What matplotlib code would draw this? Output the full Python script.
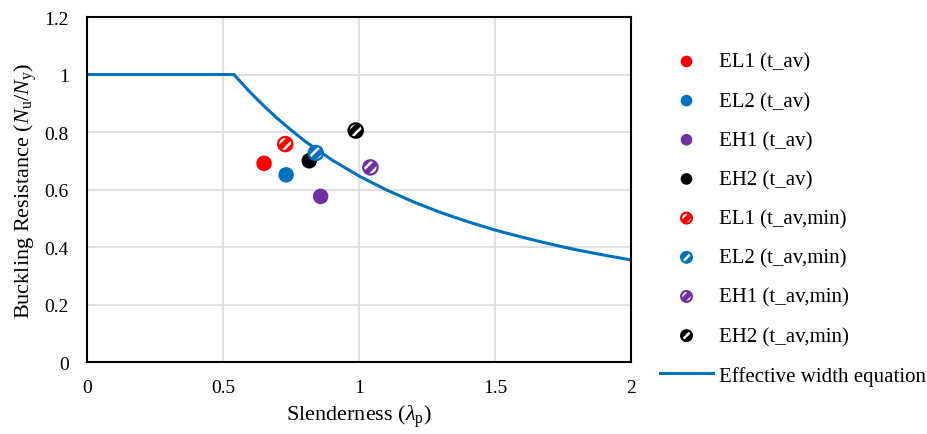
import matplotlib
matplotlib.use("Agg")
import matplotlib.pyplot as plt
from matplotlib.legend_handler import HandlerTuple

plt.rcParams["font.family"] = ["Liberation Serif", "DejaVu Serif"]
plt.rcParams["mathtext.fontset"] = "custom"
plt.rcParams["mathtext.rm"] = "Liberation Serif"
plt.rcParams["mathtext.it"] = "Liberation Serif:italic"
plt.rcParams["hatch.linewidth"] = 1.8

# Test results: slenderness and normalised buckling resistance
specimens = ["EL1", "EL2", "EH1", "EH2"]
colors = ["#FF0000", "#0070C0", "#7030A0", "#000000"]
lam_av = [0.651, 0.732, 0.859, 0.817]
res_av = [0.691, 0.651, 0.576, 0.700]
lam_min = [0.729, 0.841, 1.042, 0.988]
res_min = [0.758, 0.727, 0.677, 0.805]

# Effective width design curve
curve_lam = [0.0, 0.54, 0.6, 0.65, 0.7, 0.75, 0.8, 0.9, 1.0, 1.1, 1.2, 1.3,
             1.4, 1.5, 1.6, 1.7, 1.8, 1.9, 2.0]
curve_res = [1.0, 1.0, 0.938, 0.891, 0.847, 0.807, 0.769, 0.703, 0.647,
             0.599, 0.557, 0.520, 0.488, 0.459, 0.434, 0.411, 0.390,
             0.372, 0.355]

x_ticks = [0, 0.5, 1, 1.5, 2]
x_labels = ["0", "0.5", "1", "1.5", "2"]
y_ticks = [0, 0.2, 0.4, 0.6, 0.8, 1.0, 1.2]
y_labels = ["0", "0.2", "0.4", "0.6", "0.8", "1", "1.2"]

fig = plt.figure(figsize=(9.28, 4.35), dpi=100)
ax = fig.add_axes([0.09375, 0.1655, 0.5862, 0.7931])

ax.set_xlim(0, 2)
ax.set_ylim(0, 1.2)
ax.set_xticks(x_ticks)
ax.set_xticklabels(x_labels)
ax.set_yticks(y_ticks)
ax.set_yticklabels(y_labels)
ax.tick_params(axis="both", length=0, labelsize=14)
ax.tick_params(axis="x", pad=12)
ax.tick_params(axis="y", pad=13)
ax.grid(True, color="#d9d9d9", linewidth=1.2)
ax.set_axisbelow(True)
for sp in ax.spines.values():
    sp.set_linewidth(1.5)
    sp.set_color("black")

handles = []
labels = []
s_marker = 125
for name, c, x, y in zip(specimens, colors, lam_av, res_av):
    h = ax.scatter([x], [y], s=s_marker, color=c, edgecolor="none", zorder=3)
    handles.append(h)
    labels.append(f"{name} (t_av)")

for name, c, x, y in zip(specimens, colors, lam_min, res_min):
    fill = ax.scatter([x], [y], s=s_marker * 0.85, facecolor=c,
                      edgecolor="white", hatch="///", linewidth=0, zorder=4)
    ring = ax.scatter([x], [y], s=s_marker * 0.85, facecolor="none",
                      edgecolor=c, linewidth=1.6, zorder=5)
    handles.append((fill, ring))
    labels.append(f"{name} (t_av,min)")

line, = ax.plot(curve_lam, curve_res, color="#0070C0", linewidth=2.2, zorder=2)
handles.append(line)
labels.append("Effective width equation")

ax.set_xlabel(r"Slenderness ($\lambda_\mathrm{p}$)", fontsize=16, labelpad=5)
ax.set_ylabel(r"Buckling Resistance ($N_\mathrm{u}/N_\mathrm{y}$)",
              fontsize=16, labelpad=4)

fig.legend(handles, labels, loc="upper left",
           bbox_to_anchor=(0.6915, 0.9205), frameon=False, fontsize=15,
           handlelength=2.5, handletextpad=0.3, labelspacing=0.94,
           markerscale=0.75,
           handler_map={tuple: HandlerTuple(ndivide=1, pad=0)})

fig.savefig("out.png", dpi=100)
